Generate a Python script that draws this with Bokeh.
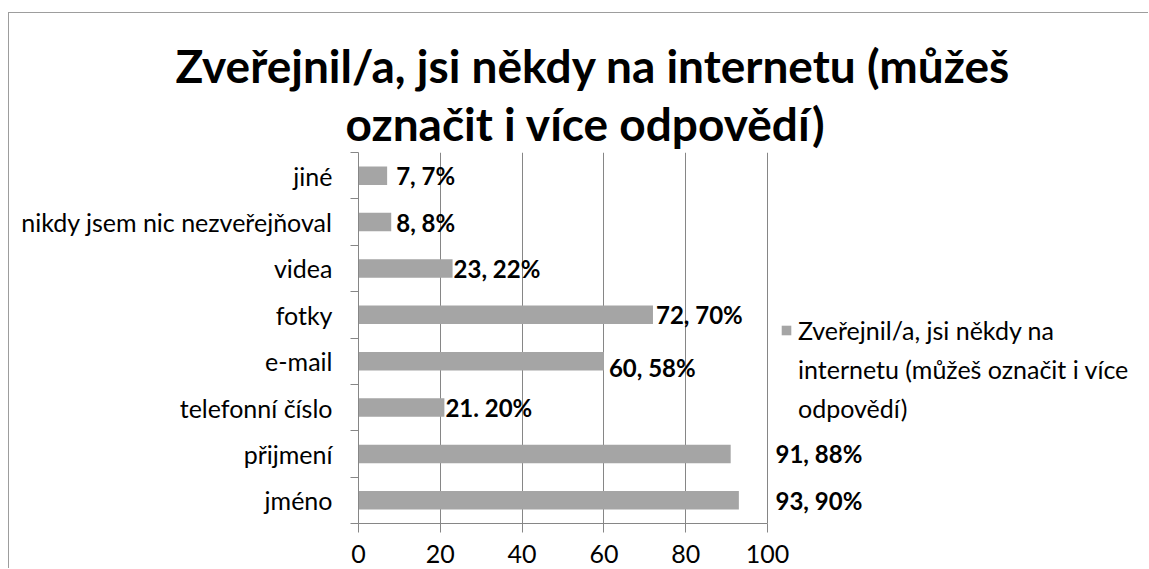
from bokeh.plotting import figure
from bokeh.models import Range1d, FixedTicker, Label, Legend, LegendItem, ColumnDataSource, Title
from bokeh.embed import file_html
from bokeh.resources import INLINE

# ---- data (bottom to top) ----
categories = ["jméno", "přijmení", "telefonní číslo", "e-mail", "fotky",
              "videa", "nikdy jsem nic nezveřejňoval", "jiné"]
counts = [93, 91, 21, 60, 72, 23, 8, 7]
data_labels = ["93, 90%", "91, 88%", "21. 20%", "60, 58%", "72, 70%",
               "23, 22%", "8, 8%", "7, 7%"]
title_lines = ["Zveřejnil/a, jsi někdy na internetu (můžeš", "označit i více odpovědí)"]
legend_lines = ["Zveřejnil/a, jsi někdy na", "internetu (můžeš označit i více", "odpovědí)"]
x_ticks = [0, 20, 40, 60, 80, 100]
x_max = 100

# ---- styling / layout constants ----
FONT = "Lato"
BAR = "#a5a5a5"
GRID = "#868686"
BORDER = "#9d9d9d"

OX, OY = 9, 13                     # chart-area border offset in the window
CW, CH = 1149 - OX, 569 - OY       # canvas size
FL = 358 - OX                      # frame left (x = 0)
X100 = 767 - OX                    # x = 100
FT = 152 - OY                      # frame top
FB = 523 - OY                      # frame bottom (axis)

n = len(categories)
ypos = [i + 0.5 for i in range(n)]
x_end = x_max * (CW - FL) / (X100 - FL)

p = figure(width=CW, height=CH, output_backend="svg", toolbar_location=None,
           x_range=Range1d(0, x_end), y_range=Range1d(0, n),
           min_border_left=FL, min_border_right=0,
           min_border_top=FT, min_border_bottom=CH - FB,
           margin=(OY - 1, 0, 0, OX - 1),
           styles={"border-top": f"1px solid {BORDER}",
                   "border-left": f"1px solid {BORDER}"})
p.outline_line_color = None
p.background_fill_color = "white"
p.border_fill_color = "white"

# grid
p.ygrid.grid_line_color = None
p.xgrid.ticker = FixedTicker(ticks=x_ticks)
p.xgrid.grid_line_color = GRID

# x axis
xa = p.xaxis[0]
xa.ticker = FixedTicker(ticks=x_ticks)
xa.bounds = (0, x_max)
xa.axis_line_color = GRID
xa.major_tick_line_color = GRID
xa.major_tick_out = 9
xa.major_tick_in = 0
xa.minor_tick_line_color = None
xa.major_label_text_font = FONT
xa.major_label_text_font_size = "25px"
xa.major_label_text_color = "black"
xa.major_label_standoff = 12

# y axis: labels at category centres, ticks at category boundaries
ya = p.yaxis[0]
ya.ticker = FixedTicker(ticks=ypos, minor_ticks=list(range(n + 1)))
ya.major_label_overrides = {y: c for y, c in zip(ypos, categories)}
ya.axis_line_color = GRID
ya.major_tick_line_color = None
ya.major_tick_out = 0
ya.major_tick_in = 0
ya.minor_tick_line_color = GRID
ya.minor_tick_out = 8
ya.minor_tick_in = 0
ya.major_label_text_font = FONT
ya.major_label_text_font_size = "25px"
ya.major_label_text_color = "black"
ya.major_label_standoff = 18

src = ColumnDataSource(dict(y=ypos, v=counts, lab=data_labels, cat=categories))
bars = p.hbar(y="y", right="v", left=0, height=0.4, source=src,
              fill_color=BAR, line_color=None)

# data labels (Excel places the two longest outside the plot area)
lab_x = [v if v < 90 else x_max for v in counts]
x_off = [8, 8, 1, 5, 3, 1, 5, 9]
y_off = [0, 0, 0, -6, 0, 0, 0, 0]
for i in range(n):
    p.add_layout(Label(x=lab_x[i], y=ypos[i], text=data_labels[i],
                       x_offset=x_off[i], y_offset=y_off[i],
                       text_font=FONT, text_font_size="24px",
                       text_font_style="bold", text_baseline="middle",
                       text_color="black"))

# title (two lines, second one added first = closest to the plot);
# left-aligned, shifted from the plot-area's left edge
for line, start, st in [(title_lines[1], 345, 3), (title_lines[0], 175, 0)]:
    p.add_layout(Title(text=line, align="left", offset=start - 358, standoff=st,
                       text_font=FONT, text_font_size="46px", text_font_style="bold",
                       text_color="black"), "above")

# legend: one series, label wrapped on three lines
dummy = p.hbar(y=[], right=[], left=0, height=0.4, fill_alpha=0, line_alpha=0)
items = [LegendItem(label=legend_lines[0], renderers=[bars])]
items += [LegendItem(label=t, renderers=[dummy]) for t in legend_lines[1:]]
legend = Legend(items=items, location=(780 - OX - FL, 523 - 423),
                orientation="vertical", border_line_color=None,
                background_fill_alpha=0, padding=0, margin=0,
                glyph_width=12, glyph_height=12, label_height=12,
                label_standoff=6, spacing=9, label_text_font=FONT,
                label_text_font_size="25px", label_text_color="black")
p.add_layout(legend, "center")

open("out.html", "w").write(file_html(p, INLINE))
